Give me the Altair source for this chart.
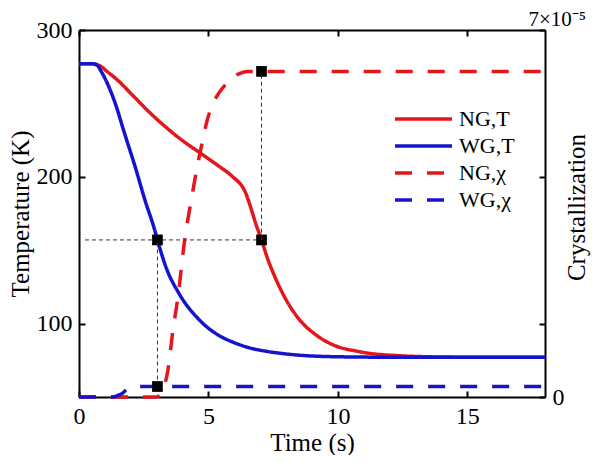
import altair as alt
import pandas as pd

FONT = "Liberation Serif"
FS = 24
TFS = 25
LFS = 22
RED = "#e3161c"
BLUE = "#1414cc"

series_names = ["NG,T", "WG,T", "NG,χ", "WG,χ"]
series_colors = [RED, BLUE, RED, BLUE]
series_dashes = [[1, 0], [1, 0], [17, 15], [17, 15]]

x_ticks = [0, 5, 10, 15]
temp_ticks = [100, 200, 300]
cryst_ticks = [0, 1.4, 4.2, 7]  # units of 1e-5

# NG temperature (K)
ng_T_time = [0, 0.5, 0.8, 1.1, 1.45, 2.09, 2.73, 3.37, 4.01, 4.65, 5.42, 5.81,
             6.0, 6.19, 6.32, 6.45, 6.58, 6.83, 7.05, 7.28, 7.6, 7.99, 8.5, 9.14,
             9.91, 10.74, 11.19, 12.2, 13.5, 15, 18]
ng_T_temp = [277, 277, 275.7, 271.5, 266.5, 255.2, 243.8, 233.6, 224.5, 216.6,
             207, 202, 199, 196, 193, 188.5, 182, 168, 157, 144.5, 130.5,
             116.5, 103, 92.5, 84.8, 81.2, 79.8, 78.3, 77.4, 77.1, 77]
# WG temperature (K)
wg_T_time = [0, 0.5, 0.7, 0.85, 1.06, 1.38, 1.77, 2.2, 2.55, 2.92, 3.03, 3.37,
             3.88, 4.65, 5.55, 5.93, 6.58, 7.22, 7.86, 8.5, 10, 12, 18]
wg_T_temp = [277, 277, 276, 272, 265, 251, 229, 205, 184, 164, 157, 138, 120,
             102.5, 90.5, 87.5, 83.5, 81.2, 79.6, 78.5, 77.4, 77.1, 77]
# NG crystallization (x 1e-5)
ng_c_time = [0, 3.0, 3.2, 3.43, 3.63, 3.82, 4.08, 4.33, 4.59, 4.78, 4.91, 5.17,
             5.42, 5.7, 5.94, 6.2, 6.5, 7.05, 18]
ng_c_val = [0, 0, 0.1, 0.5, 1.28, 1.9, 2.99, 3.74, 4.45, 4.9, 5.2, 5.59,
            5.81, 5.98, 6.1, 6.17, 6.21, 6.21, 6.21]
# WG crystallization (x 1e-5)
wg_c_time = [0, 1.3, 1.5, 1.7, 1.9, 2.1, 2.4, 3.03, 18]
wg_c_val = [0, 0, 0.03, 0.08, 0.17, 0.19, 0.2, 0.2, 0.2]

# marked points
mark_times = [3.03, 7.05]
mark_temps = [157, 157]
mark_cryst = [0.2, 6.21]
# guide lines
guide_h_time = [0.23, 7.05]
guide_h_temp = [157, 157]
guide_v_time = [3.03, 3.03, 7.05, 7.05]
guide_v_cryst = [0.2, 3.0, 3.0, 6.21]
guide_v_id = ["a", "a", "b", "b"]


def frame(times, vals, name):
    return pd.DataFrame({"t": times, "v": vals, "series": name})


temp_df = pd.concat([frame(ng_T_time, ng_T_temp, "NG,T"),
                     frame(wg_T_time, wg_T_temp, "WG,T")])
cryst_df = pd.concat([frame(ng_c_time, ng_c_val, "NG,χ"),
                      frame(wg_c_time, wg_c_val, "WG,χ")])
temp_marks = pd.DataFrame({"t": mark_times, "v": mark_temps})
cryst_marks = pd.DataFrame({"t": mark_times, "v": mark_cryst})
guide_h = pd.DataFrame({"t": guide_h_time, "v": guide_h_temp, "g": ["h", "h"]})
guide_v = pd.DataFrame({"t": guide_v_time, "v": guide_v_cryst, "g": guide_v_id})

W, H = 466, 367

axis_common = dict(
    labelFont=FONT, titleFont=FONT, titleFontSize=TFS,
    titleFontWeight="normal", labelColor="black", titleColor="black",
    domainColor="black", domainWidth=2, tickColor="black", tickWidth=2,
    tickSize={"expr": "-6"}, grid=False, labelFlush=False, labelOverlap=False,
)

x_scale = alt.Scale(domain=[0, 18], nice=False, zero=False)
x_bottom = alt.X("t:Q", scale=x_scale,
                 axis=alt.Axis(orient="bottom", values=x_ticks, title="Time (s)",
                               labelFontSize=FS, labelPadding=13, titleBaseline="alphabetic",
                               titleX=W / 2, titleY=53, **axis_common))
x_top = alt.X("t:Q", scale=x_scale,
              axis=alt.Axis(orient="top", values=x_ticks, title=None, labels=False,
                            **axis_common))

y_temp = alt.Y("v:Q", scale=alt.Scale(domain=[50, 300], nice=False, zero=False),
               axis=alt.Axis(orient="left", values=temp_ticks, title="Temperature (K)",
                             labelFontSize=FS, labelPadding=13, titleAngle=270,
                             titleBaseline="alphabetic",
                             titleX=-51, titleY=H / 2, **axis_common))
y_cryst = alt.Y("v:Q", scale=alt.Scale(domain=[0, 7], nice=False, zero=False),
                axis=alt.Axis(orient="right", values=cryst_ticks, title="Crystallization",
                              titleAngle=270, titleBaseline="alphabetic",
                              titleX=39, titleY=177,
                              labelExpr="datum.value == 0 ? '0' : (datum.value == 7 ? '7×10⁻⁵' : '')",
                              labelFontSize={"expr": "datum.value == 7 ? 21 : 24"},
                              labelBaseline={"expr": "datum.value == 7 ? 'alphabetic' : 'middle'"},
                              labelPadding={"expr": "datum.value == 7 ? -11 : 13"},
                              labelOffset={"expr": "datum.value == 7 ? -5 : 0"},
                              **axis_common))

legend = alt.Legend(orient="none", legendX=314, legendY=79, title=None,
                    symbolType="stroke", symbolSize=3249, symbolStrokeWidth=3.5,
                    labelFont=FONT, labelFontSize=LFS, labelColor="black",
                    labelOffset=5, rowPadding=5, clipHeight=20, padding=0,
                    labelLimit=200)
color = alt.Color("series:N", scale=alt.Scale(domain=series_names, range=series_colors),
                  legend=legend)
dash = alt.StrokeDash("series:N", scale=alt.Scale(domain=series_names, range=series_dashes),
                      legend=legend)

temp_lines = alt.Chart(temp_df).mark_line(strokeWidth=3.5, interpolate="monotone").encode(
    x=x_bottom, y=y_temp, color=color, strokeDash=dash)
temp_guide = alt.Chart(guide_h).mark_line(strokeWidth=1, strokeDash=[4, 3], color="#333").encode(
    x=x_bottom, y=y_temp, detail="g:N")
temp_sq = alt.Chart(temp_marks).mark_square(size=115, color="black", opacity=1).encode(
    x=x_bottom, y=y_temp)

cryst_lines = alt.Chart(cryst_df).mark_line(strokeWidth=3.5, interpolate="monotone").encode(
    x=x_top, y=y_cryst, color=color, strokeDash=dash)
cryst_guide = alt.Chart(guide_v).mark_line(strokeWidth=1, strokeDash=[4, 3], color="#333").encode(
    x=x_top, y=y_cryst, detail="g:N", order="v:Q")
cryst_sq = alt.Chart(cryst_marks).mark_square(size=115, color="black", opacity=1).encode(
    x=x_top, y=y_cryst)

temp_layer = alt.layer(temp_lines, temp_guide, temp_sq)
cryst_layer = alt.layer(cryst_lines, cryst_guide, cryst_sq)

chart = alt.layer(temp_layer, cryst_layer).resolve_scale(
    y="independent").resolve_axis(x="independent", y="independent").properties(
    width=W, height=H,
    autosize=alt.AutoSizeParams(type="none"),
    padding={"left": 71, "top": 22, "right": 47, "bottom": 58}
).configure_view(stroke="transparent")

chart.save("out.html", embed_options={"renderer": "svg", "actions": False})
